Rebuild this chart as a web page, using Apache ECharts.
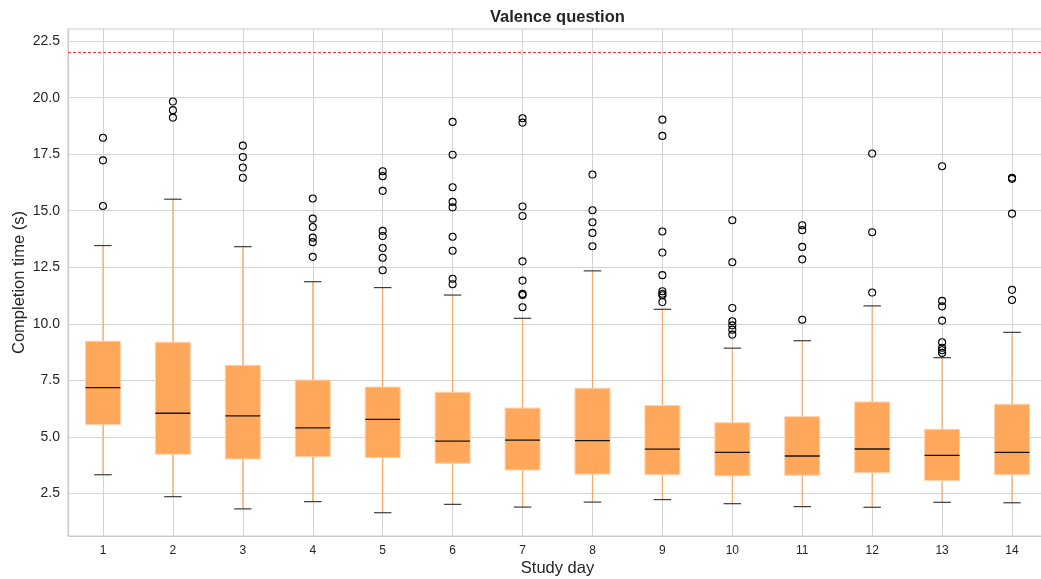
<!DOCTYPE html>
<html>
<head>
<meta charset="utf-8">
<script src="https://cdn.jsdelivr.net/npm/echarts@6/dist/echarts.min.js"></script>
<style>
html,body{margin:0;padding:0;background:#fff;}
#chart{width:1041px;height:579px;}
</style>
</head>
<body>
<div id="chart"></div>
<script>
var days = [1,2,3,4,5,6,7,8,9,10,11,12,13,14];
var lowWhisker  = [3.32, 2.35, 1.81, 2.13, 1.64, 2.01, 1.89, 2.11, 2.22, 2.04, 1.91, 1.88, 2.10, 2.08];
var q1          = [5.54, 4.23, 4.02, 4.12, 4.08, 3.83, 3.53, 3.35, 3.32, 3.27, 3.30, 3.41, 3.06, 3.32];
var median      = [7.17, 6.04, 5.92, 5.39, 5.77, 4.81, 4.85, 4.83, 4.45, 4.31, 4.15, 4.46, 4.18, 4.31];
var q3          = [9.23, 9.18, 8.16, 7.51, 7.20, 6.97, 6.27, 7.15, 6.38, 5.62, 5.89, 6.54, 5.33, 6.44];
var highWhisker = [13.46, 15.51, 13.41, 11.86, 11.60, 11.27, 10.24, 12.34, 10.64, 8.92, 9.25, 10.79, 8.50, 9.62];
var outliers = [
  [18.23, 17.23, 15.21],
  [19.83, 19.45, 19.12],
  [17.88, 17.38, 16.91, 16.46],
  [15.54, 14.65, 14.28, 13.81, 13.61, 12.96],
  [16.75, 16.53, 15.88, 14.11, 13.88, 13.35, 12.92, 12.37],
  [18.93, 17.48, 16.04, 15.39, 15.15, 13.85, 13.23, 11.99, 11.75],
  [19.09, 18.90, 15.19, 14.77, 12.76, 11.91, 11.32, 11.27, 10.73],
  [16.60, 15.02, 14.49, 14.02, 13.43],
  [19.03, 18.31, 14.08, 13.15, 12.15, 11.44, 11.33, 11.26, 10.96],
  [14.58, 12.72, 10.70, 10.11, 9.93, 9.74, 9.52],
  [14.36, 14.14, 13.40, 12.85, 10.18],
  [17.53, 14.05, 11.38],
  [16.97, 11.01, 10.77, 10.14, 9.18, 8.94, 8.83, 8.71],
  [16.46, 16.41, 14.87, 11.50, 11.05]
];
var yTicks = [2.5, 5.0, 7.5, 10.0, 12.5, 15.0, 17.5, 20.0, 22.5];
var threshold = 22;
var titleText = 'Valence question';
var xName = 'Study day';
var yName = 'Completion time (s)';

var boxData = days.map(function (d, i) {
  return [d, lowWhisker[i], q1[i], median[i], q3[i], highWhisker[i]];
});
var outlierData = [];
days.forEach(function (d, i) {
  outliers[i].forEach(function (v) { outlierData.push([d, v]); });
});

var textColor = '#262626';
var font = 'Liberation Sans, Arial, sans-serif';

var chart = echarts.init(document.getElementById('chart'), null, {renderer: 'canvas'});
chart.setOption({
  backgroundColor: '#ffffff',
  animation: false,
  title: {
    text: titleText,
    left: 490,
    top: 9,
    padding: 0,
    textStyle: {fontFamily: font, fontSize: 16.5, fontWeight: 'bold', color: textColor}
  },
  grid: {
    left: 68, top: 29, width: 979, height: 507,
    show: true, borderColor: '#cccccc', borderWidth: 1, backgroundColor: '#ffffff',
    containLabel: false,
    outerBoundsMode: 'none'
  },
  xAxis: {
    type: 'value',
    min: 0.5, max: 14.5,
    name: xName,
    nameLocation: 'middle',
    nameGap: 24,
    nameMoveOverlap: false,
    nameTextStyle: {fontFamily: font, fontSize: 16.5, color: textColor},
    axisLine: {show: true, lineStyle: {color: '#cccccc', width: 1.2}},
    axisTick: {show: false, customValues: days},
    axisLabel: {customValues: days, fontFamily: font, fontSize: 12, color: textColor, margin: 9,
      formatter: function (v) { return String(v); }},
    splitLine: {show: true, lineStyle: {color: '#d5d5d5', width: 1}}
  },
  yAxis: {
    type: 'value',
    min: 0.61, max: 23.04,
    name: yName,
    nameLocation: 'middle',
    nameRotate: 90,
    nameGap: 40,
    nameMoveOverlap: false,
    nameTextStyle: {fontFamily: font, fontSize: 16.5, color: textColor},
    axisLine: {show: true, lineStyle: {color: '#cccccc', width: 1.2}},
    axisTick: {show: false, customValues: yTicks},
    axisLabel: {customValues: yTicks, fontFamily: font, fontSize: 14, color: textColor, margin: 8,
      formatter: function (v) { return v.toFixed(1); }},
    splitLine: {show: true, lineStyle: {color: '#d5d5d5', width: 1}}
  },
  series: [
    {
      type: 'custom',
      data: boxData,
      z: 3,
      renderItem: function (params, api) {
        var x = api.value(0);
        var unit = api.size([1, 0])[0];
        var half = unit * 0.25;
        var capHalf = unit * 0.125;
        var pLo = api.coord([x, api.value(1)]);
        var pQ1 = api.coord([x, api.value(2)]);
        var pMed = api.coord([x, api.value(3)]);
        var pQ3 = api.coord([x, api.value(4)]);
        var pHi = api.coord([x, api.value(5)]);
        var cx = pLo[0];
        return {
          type: 'group',
          children: [
            {type: 'line', shape: {x1: cx, y1: pLo[1], x2: cx, y2: pQ1[1]},
              style: {stroke: '#f9a968', lineWidth: 1.2}},
            {type: 'line', shape: {x1: cx, y1: pQ3[1], x2: cx, y2: pHi[1]},
              style: {stroke: '#f9a968', lineWidth: 1.2}},
            {type: 'rect', shape: {x: cx - half, y: pQ3[1], width: half * 2, height: pQ1[1] - pQ3[1]},
              style: {fill: '#ffa75a', stroke: '#ffd2aa', lineWidth: 1}},
            {type: 'line', shape: {x1: cx - half, y1: pMed[1], x2: cx + half, y2: pMed[1]},
              style: {stroke: '#141414', lineWidth: 1.3}},
            {type: 'line', shape: {x1: cx - capHalf, y1: pLo[1], x2: cx + capHalf, y2: pLo[1]},
              style: {stroke: '#3c3c3c', lineWidth: 1.2}},
            {type: 'line', shape: {x1: cx - capHalf, y1: pHi[1], x2: cx + capHalf, y2: pHi[1]},
              style: {stroke: '#3c3c3c', lineWidth: 1.2}}
          ]
        };
      }
    },
    {
      type: 'scatter',
      data: outlierData,
      z: 4,
      symbol: 'circle',
      symbolSize: 7,
      itemStyle: {color: 'rgba(0,0,0,0)', borderColor: '#000000', borderWidth: 1.1, opacity: 1},
      markLine: {
        silent: true,
        symbol: ['none', 'none'],
        label: {show: false},
        lineStyle: {color: '#ff3030', type: [3, 2], width: 1},
        data: [{yAxis: threshold}]
      }
    }
  ]
});
</script>
</body>
</html>
